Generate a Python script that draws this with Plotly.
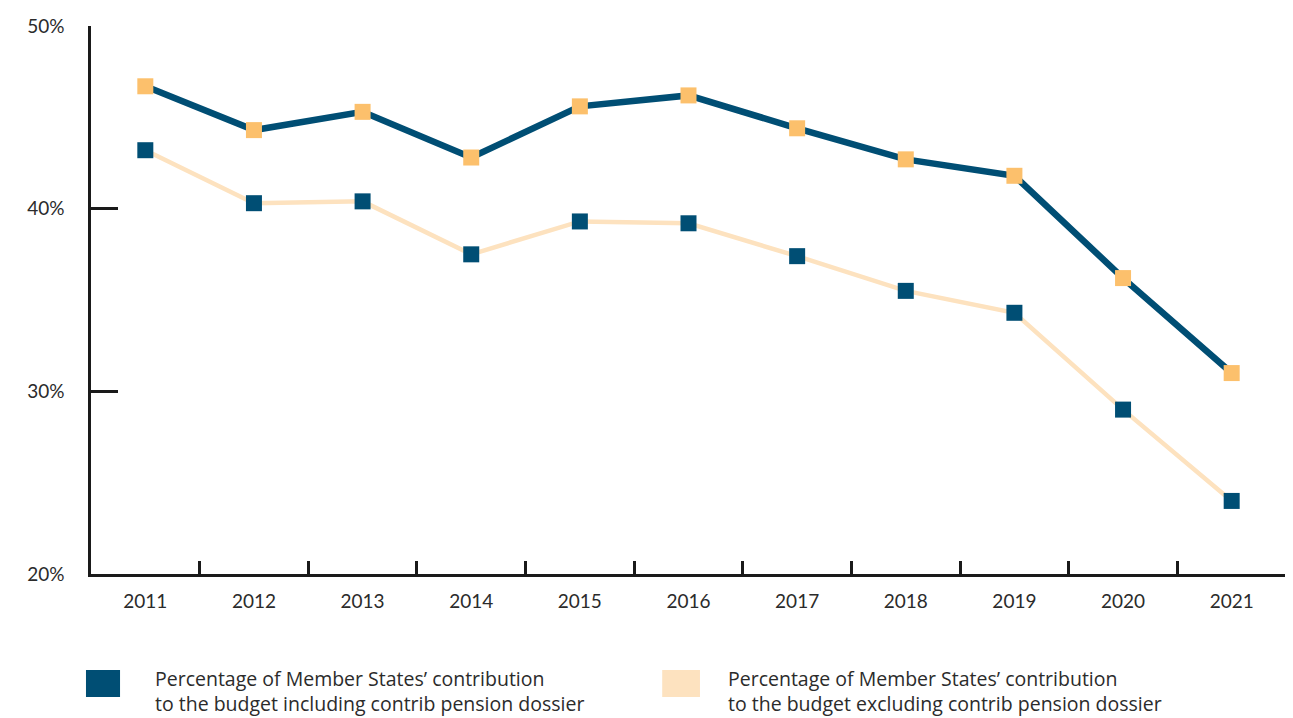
import plotly.graph_objects as go

# ── data ──────────────────────────────────────
years = ["2011", "2012", "2013", "2014", "2015", "2016", "2017", "2018", "2019", "2020", "2021"]
incl_pension = [46.7, 44.3, 45.3, 42.8, 45.6, 46.2, 44.4, 42.7, 41.8, 36.2, 31.0]
excl_pension = [43.2, 40.3, 40.4, 37.5, 39.3, 39.2, 37.4, 35.5, 34.3, 29.0, 24.0]
legend_labels = [
    "Percentage of Member States’ contribution<br>to the budget including contrib pension dossier",
    "Percentage of Member States’ contribution<br>to the budget excluding contrib pension dossier",
]

DARK = "#004e74"
ORANGE = "#fcc06c"
PEACH = "#fde2bf"
AXIS = "#1a1a1a"
TEXT = "#2b2b2b"

fig = go.Figure()

fig.add_trace(go.Scatter(
    x=years, y=excl_pension, mode="lines+markers",
    line=dict(color=PEACH, width=4.5),
    marker=dict(symbol="square", size=16, color=DARK),
    showlegend=False,
))
fig.add_trace(go.Scatter(
    x=years, y=incl_pension, mode="lines+markers",
    line=dict(color=DARK, width=6.5),
    marker=dict(symbol="square", size=16, color=ORANGE),
    showlegend=False,
))

# legend drawn as shapes + text below the plot
legend_pos = [(-0.0042, 0.0243, 0.0519), (0.478, 0.5096, 0.531)]
for (x0, x1, tx), col, lab in zip(legend_pos, [DARK, PEACH], legend_labels):
    fig.add_shape(type="rect", xref="paper", yref="paper",
                  x0=x0, x1=x1, y0=-0.2245, y1=-0.175,
                  fillcolor=col, line_width=0)
    fig.add_annotation(xref="paper", yref="paper", x=tx, y=-0.2135,
                       xanchor="left", yanchor="middle", align="left",
                       showarrow=False, text=lab,
                       font=dict(family="Open Sans, sans-serif", size=19.5, color=TEXT))

fig.update_layout(
    width=1285, height=710,
    margin=dict(l=83, r=7, t=18, b=144),
    paper_bgcolor="white", plot_bgcolor="white",
    font=dict(family="Lato, sans-serif", color=TEXT, size=19),
    xaxis=dict(
        type="category", range=[-0.5, 10.5], automargin=False,
        tickson="boundaries", ticks="inside", ticklen=13, tickwidth=2.5, tickcolor=AXIS,
        showline=True, linecolor=AXIS, linewidth=2.5,
        showgrid=False, zeroline=False, ticklabelstandoff=8,
    ),
    yaxis=dict(
        range=[20, 50], dtick=10, ticksuffix="%", automargin=False,
        ticks="inside", ticklen=27, tickwidth=2.5, tickcolor=AXIS,
        showline=True, linecolor=AXIS, linewidth=2.5,
        showgrid=False, zeroline=False, ticklabelstandoff=20,
    ),
)

fig.write_html("out.html")
